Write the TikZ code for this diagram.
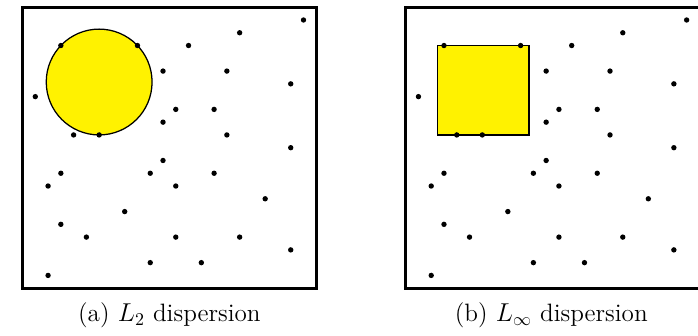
\documentclass[tikz,border=0pt]{standalone}
\begin{document}
\begin{tikzpicture}[x=0.25cm,y=-0.25cm,
  frame/.style={draw=black,line width=1.6pt},
  region/.style={draw=black,fill=yellow,line width=0.7pt},
  pt/.style={fill=black},
  caption/.style={anchor=base,font=\fontsize{14}{16}\selectfont,inner sep=0pt}]
\useasboundingbox (-2.764,-1.566) rectangle (51.89,24.67);
\def\dots{21/0,16/1,12/2,8/2,2/2,10/4,15/4,20/5,0/6,11/7,14/7,10/8,3/9,5/9,15/9,20/10,10/11,2/12,9/12,14/12,1/13,11/13,18/14,7/15,2/16,4/17,11/17,16/17,20/18,9/19,13/19,1/20}
% panel (a)
\begin{scope}
  \draw[frame] (-1,-1) rectangle (22,21);
  \draw[region] (5,4.857) circle [radius=1.0357cm];
  \foreach \x/\y in \dots { \fill[pt] (\x,\y) circle [radius=1.5pt]; }
\end{scope}
% panel (b)
\begin{scope}[xshift=7.5cm]
  \draw[frame] (-1,-1) rectangle (22,21);
  \draw[region] (1.5,2) rectangle (8.65,9);
  \foreach \x/\y in \dots { \fill[pt] (\x,\y) circle [radius=1.5pt]; }
\end{scope}
\node[caption] (capa) at (10.5,23.6) {(a) $L_2$ dispersion};
\node[caption] (capb) at (40.4,23.6) {(b) $L_\infty$ dispersion};
\end{tikzpicture}
\end{document}
